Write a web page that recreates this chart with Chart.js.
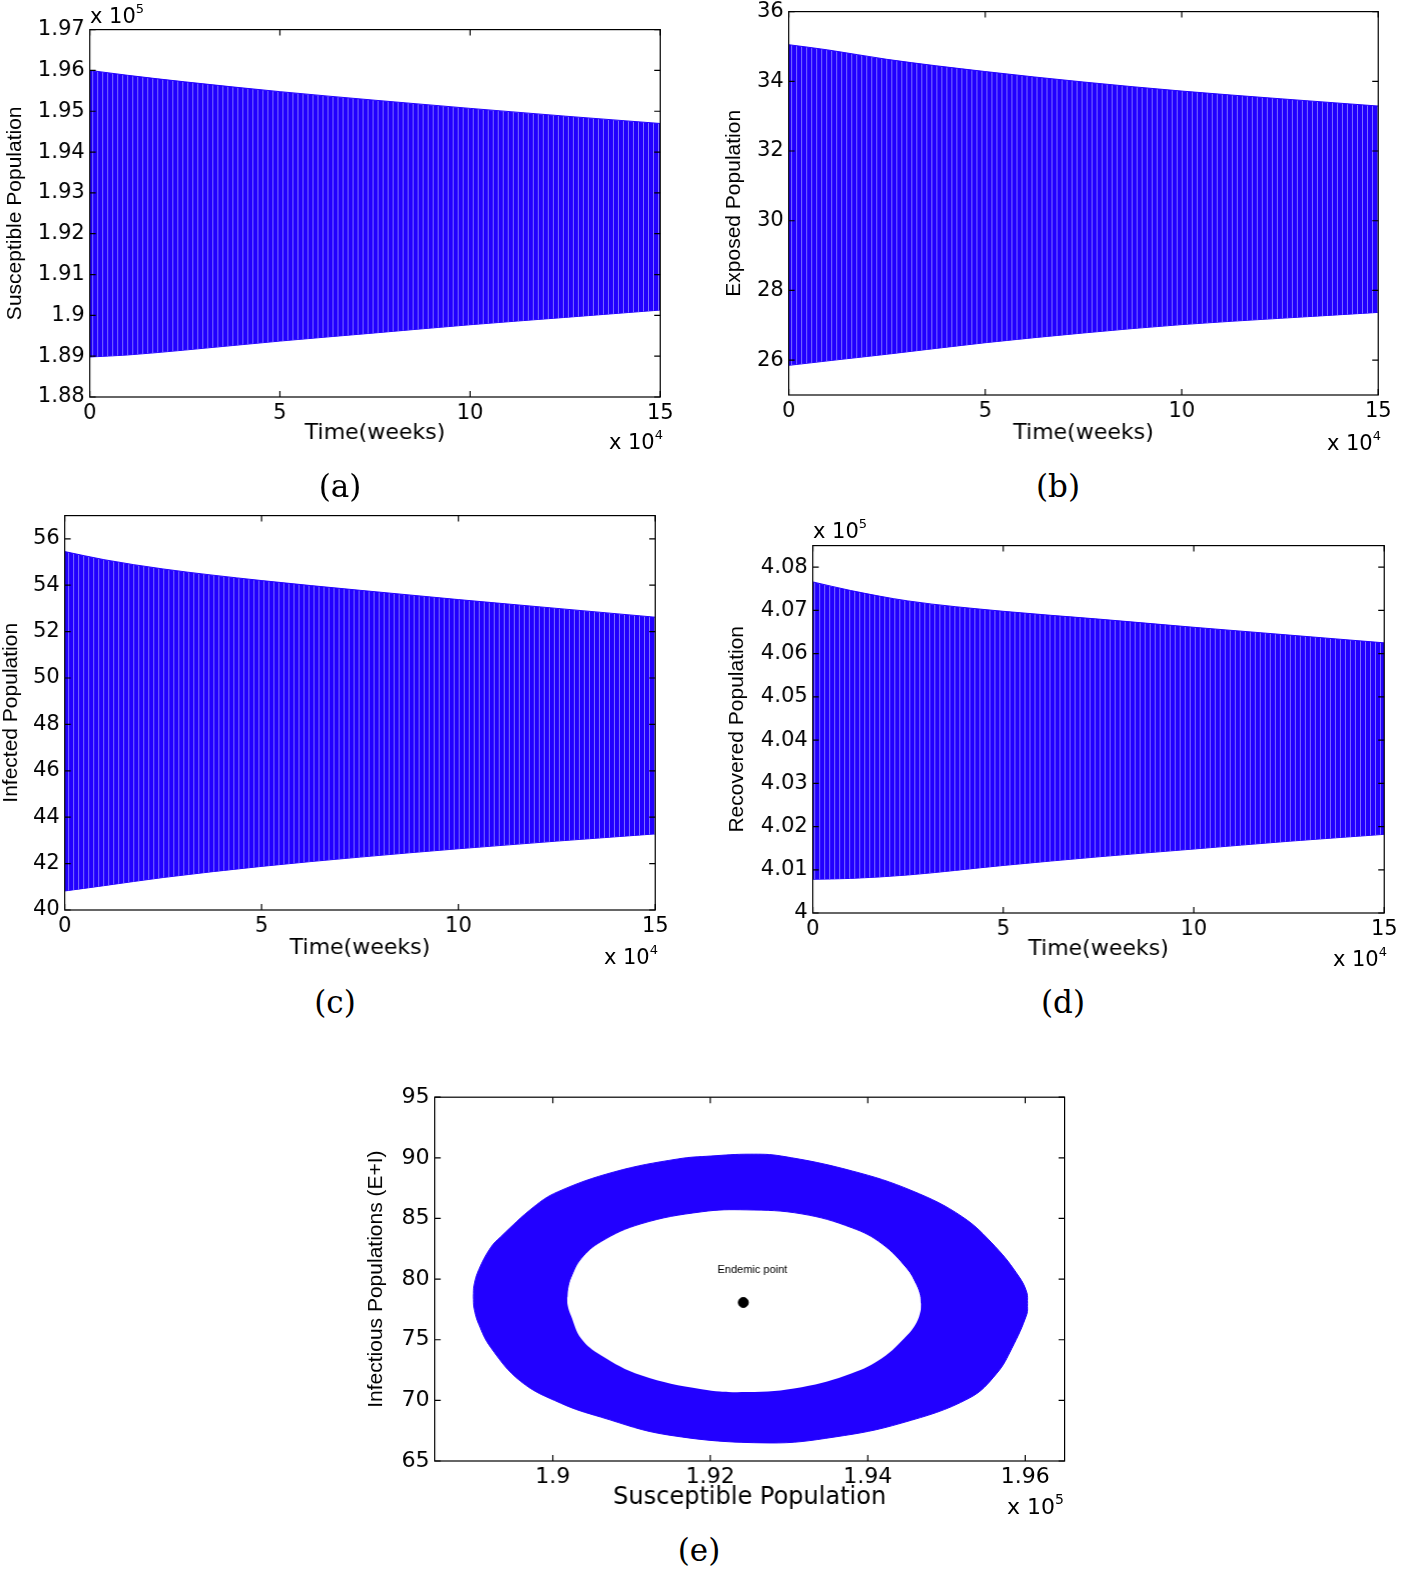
<!DOCTYPE html>
<html>
<head>
<meta charset="utf-8">
<script src="https://cdn.jsdelivr.net/npm/chart.js@4.4.1/dist/chart.umd.min.js"></script>
<style>
  html, body { margin: 0; padding: 0; background: #fff; }
  body { width: 1401px; height: 1571px; position: relative; overflow: hidden; font-family: "DejaVu Sans", sans-serif; color: #000; }
  .box { position: absolute; }
  .exp { position: absolute; font-size: 21px; line-height: 21px; white-space: nowrap; }
  .exp sup { font-size: 13px; position: relative; top: -10px; vertical-align: baseline; }
  .exp.big { font-size: 22px; line-height: 22px; }
  .exp.big sup { font-size: 14px; top: -10px; }
  .cap { position: absolute; width: 100px; text-align: center; font-family: "DejaVu Serif", serif; font-size: 31px; line-height: 36px; }
</style>
</head>
<body>
<div class="box" id="box-a"><canvas id="chart-a"></canvas></div>
<div class="box" id="box-b"><canvas id="chart-b"></canvas></div>
<div class="box" id="box-c"><canvas id="chart-c"></canvas></div>
<div class="box" id="box-d"><canvas id="chart-d"></canvas></div>
<div class="box" id="box-e"><canvas id="chart-e"></canvas></div>

<div class="exp" style="left:90px; top:6px;">x 10<sup>5</sup></div>
<div class="exp" style="right:738px; top:432px;">x 10<sup>4</sup></div>
<div class="exp" style="right:20px; top:433px;">x 10<sup>4</sup></div>
<div class="exp" style="right:743px; top:947px;">x 10<sup>4</sup></div>
<div class="exp" style="left:813px; top:521px;">x 10<sup>5</sup></div>
<div class="exp" style="right:14px; top:949px;">x 10<sup>4</sup></div>
<div class="exp big" style="right:337px; top:1496px;">x 10<sup>5</sup></div>

<div class="cap" style="left:290px; top:468px;">(a)</div>
<div class="cap" style="left:1008px; top:468px;">(b)</div>
<div class="cap" style="left:285px; top:984px;">(c)</div>
<div class="cap" style="left:1013px; top:984px;">(d)</div>
<div class="cap" style="left:649px; top:1532px;">(e)</div>

<script>
/***** Data *****/
// Time axis is in units of 10^4 weeks; the band is the envelope of the oscillation
const timeWeeks = [0, 1, 2.5, 5, 7.5, 10, 12.5, 15];

// (a) Susceptible, units of 10^5
const susceptibleUpper = [1.96, 1.9588, 1.9572, 1.9548, 1.9527, 1.9507, 1.9488, 1.947];
const susceptibleLower = [1.8898, 1.8903, 1.8915, 1.8937, 1.8957, 1.8977, 1.8995, 1.9013];

// (b) Exposed
const exposedUpper = [35.05, 34.9, 34.63, 34.28, 33.98, 33.72, 33.5, 33.29];
const exposedLower = [25.85, 25.98, 26.17, 26.5, 26.78, 27.02, 27.2, 27.37];

// (c) Infected
const infectedUpper = [55.45, 55.1, 54.7, 54.2, 53.78, 53.38, 53.0, 52.62];
const infectedLower = [40.82, 41.05, 41.4, 41.88, 42.28, 42.64, 42.97, 43.28];

// (d) Recovered, units of 10^5
const recoveredUpper = [4.0766, 4.0746, 4.0722, 4.0698, 4.068, 4.0661, 4.0643, 4.0625];
const recoveredLower = [4.0078, 4.008, 4.0088, 4.011, 4.013, 4.0148, 4.0166, 4.0182];

// (e) Phase plane: S (units of 10^5) against E+I, outer and inner edges of the ring
const outerTopS = [1.8899, 1.89, 1.8906, 1.8921, 1.8934, 1.8976, 1.9006, 1.9078, 1.9159, 1.9201, 1.925, 1.929, 1.938, 1.9456, 1.952, 1.9562, 1.9592, 1.9602, 1.9603];
const outerTopI = [78.57, 79.5, 80.78, 82.59, 83.5, 85.96, 87.19, 88.84, 89.91, 90.15, 90.3, 90.15, 88.92, 87.29, 85.14, 82.67, 80.21, 78.9, 78.0];
const outerBottomS = [1.8899, 1.89, 1.8906, 1.8921, 1.8959, 1.901, 1.9061, 1.9146, 1.9274, 1.9358, 1.9443, 1.9529, 1.9564, 1.9583, 1.9602, 1.9603];
const outerBottomI = [78.57, 77.6, 76.27, 74.38, 71.58, 69.77, 68.62, 67.15, 66.49, 66.98, 68.13, 70.19, 72.24, 74.29, 77.1, 78.0];
const innerS = [1.9018, 1.9019, 1.9023, 1.9036, 1.9061, 1.9112, 1.9189, 1.9246, 1.9316, 1.938, 1.9418, 1.945, 1.9462, 1.9467, 1.9468];
const innerTopI = [78.5, 79.2, 80.13, 81.69, 83.09, 84.56, 85.55, 85.71, 85.38, 84.23, 82.92, 80.86, 79.55, 78.66, 78.0];
const innerBottomI = [78.5, 77.8, 77.0, 75.1, 73.72, 72.07, 70.92, 70.68, 71.09, 72.24, 73.47, 75.36, 76.43, 77.34, 78.0];
const endemicS = [1.9242];
const endemicI = [78.07];

// Tick values
const timeTicks = [0, 5, 10, 15];
const susceptibleTicks = [1.88, 1.89, 1.9, 1.91, 1.92, 1.93, 1.94, 1.95, 1.96, 1.97];
const exposedTicks = [26, 28, 30, 32, 34, 36];
const infectedTicks = [40, 42, 44, 46, 48, 50, 52, 54, 56];
const recoveredTicks = [4, 4.01, 4.02, 4.03, 4.04, 4.05, 4.06, 4.07, 4.08];
const phaseSTicks = [1.9, 1.92, 1.94, 1.96];
const phaseITicks = [65, 70, 75, 80, 85, 90, 95];

/***** Layout (page pixels) *****/
const frames = {
  a: { left: 90, top: 28, right: 663, bottom: 397, yTitleX: 16, xTitleY: 433 },
  b: { left: 789, top: 10, right: 1381, bottom: 395, yTitleX: 735, xTitleY: 433 },
  c: { left: 65, top: 514, right: 658, bottom: 910, yTitleX: 12, xTitleY: 948 },
  d: { left: 813, top: 544, right: 1387, bottom: 913, yTitleX: 738, xTitleY: 949 },
  e: { left: 435, top: 1095, right: 1064, bottom: 1461, yTitleX: 377, xTitleY: 1498 },
};

const lineBlue = "#2200ff";

// Vertical stripes, to look like the densely packed oscillation lines
const stripeCanvas = document.createElement("canvas");
stripeCanvas.width = 5;
stripeCanvas.height = 1;
const sctx = stripeCanvas.getContext("2d");
sctx.fillStyle = lineBlue;
sctx.fillRect(0, 0, 5, 1);
sctx.fillStyle = "#7d6dff";
sctx.fillRect(4, 0, 1, 1);
const stripes = sctx.createPattern(stripeCanvas, "repeat");

/***** Plugins *****/
// Box round the plot with inward ticks on all four sides
const matlabFrame = {
  id: "matlabFrame",
  afterDraw: (chart) => {
    const { ctx, chartArea: a, scales } = chart;
    const len = 6;
    ctx.save();
    ctx.strokeStyle = "#000";
    ctx.lineWidth = 1.2;
    ctx.strokeRect(a.left, a.top, a.right - a.left, a.bottom - a.top);
    ctx.beginPath();
    scales.x.ticks.forEach((t) => {
      const px = scales.x.getPixelForValue(t.value);
      ctx.moveTo(px, a.bottom);
      ctx.lineTo(px, a.bottom - len);
      ctx.moveTo(px, a.top);
      ctx.lineTo(px, a.top + len);
    });
    scales.y.ticks.forEach((t) => {
      const py = scales.y.getPixelForValue(t.value);
      ctx.moveTo(a.left, py);
      ctx.lineTo(a.left + len, py);
      ctx.moveTo(a.right, py);
      ctx.lineTo(a.right - len, py);
    });
    ctx.stroke();
    ctx.restore();
  },
};

// Small label above the endemic point
const endemicLabel = {
  id: "endemicLabel",
  afterDatasetsDraw: (chart) => {
    const pt = chart.getDatasetMeta(0).data[0];
    const ctx = chart.ctx;
    ctx.save();
    ctx.font = '11px "Liberation Sans"';
    ctx.fillStyle = "#000";
    ctx.textAlign = "center";
    ctx.textBaseline = "middle";
    ctx.fillText("Endemic point", pt.x + 9, pt.y - 33);
    ctx.restore();
  },
};

/***** Functions *****/
const toPoints = (xs, ys) => xs.map((x, i) => ({ x: x, y: ys[i] }));

const tickLabel = (v) => String(Number(v.toFixed(3)));

// Upper and lower envelope, filled between
const bandDatasets = (upper, lower) => [
  {
    data: toPoints(timeWeeks, upper),
    borderColor: lineBlue,
    borderWidth: 1,
    pointRadius: 0,
    cubicInterpolationMode: "monotone",
    backgroundColor: stripes,
    fill: "+1",
  },
  {
    data: toPoints(timeWeeks, lower),
    borderColor: lineBlue,
    borderWidth: 1,
    pointRadius: 0,
    cubicInterpolationMode: "monotone",
    fill: false,
  },
];

const buildChart = (key, cfg) => {
  const f = frames[key];
  const yTitleSize = 21;
  const yTitleLH = yTitleSize * 1.2;
  const xTitleLH = cfg.xTitleSize * 1.2;
  const boxLeft = f.yTitleX - yTitleLH / 2;
  const boxTop = f.top - 16;
  const boxRight = f.right + 14;
  const boxBottom = f.xTitleY + xTitleLH / 2;

  const box = document.querySelector("#box-" + key);
  box.style.left = boxLeft + "px";
  box.style.top = boxTop + "px";
  box.style.width = boxRight - boxLeft + "px";
  box.style.height = boxBottom - boxTop + "px";

  const tickFont = { family: "DejaVu Sans", size: cfg.tickSize };

  new Chart(document.querySelector("#chart-" + key), {
    type: "line",
    data: { datasets: cfg.datasets },
    options: {
      responsive: true,
      maintainAspectRatio: false,
      animation: false,
      events: [],
      layout: { padding: { top: f.top - boxTop, right: boxRight - f.right, left: 0, bottom: 0 } },
      plugins: { legend: { display: false }, tooltip: { enabled: false } },
      scales: {
        x: {
          type: "linear",
          min: cfg.xMin,
          max: cfg.xMax,
          grid: { display: false, drawTicks: false },
          border: { display: false },
          ticks: { font: tickFont, color: "#000", padding: cfg.xTickPad, maxRotation: 0, autoSkip: false, callback: tickLabel },
          afterBuildTicks: (s) => {
            s.ticks = cfg.xTicks.map((v) => ({ value: v }));
          },
          afterFit: (s) => {
            s.height = boxBottom - f.bottom;
          },
          title: {
            display: true,
            text: cfg.xTitle,
            color: "#000",
            padding: 0,
            font: { family: "DejaVu Sans", size: cfg.xTitleSize },
          },
        },
        y: {
          type: "linear",
          min: cfg.yMin,
          max: cfg.yMax,
          grid: { display: false, drawTicks: false },
          border: { display: false },
          ticks: { font: tickFont, color: "#000", padding: 5, autoSkip: false, callback: tickLabel },
          afterBuildTicks: (s) => {
            s.ticks = cfg.yTicks.map((v) => ({ value: v }));
          },
          afterFit: (s) => {
            s.width = f.left - boxLeft;
          },
          title: {
            display: true,
            text: cfg.yTitle,
            color: "#000",
            padding: 0,
            font: { family: "Liberation Sans", size: yTitleSize },
          },
        },
      },
    },
    plugins: [matlabFrame].concat(cfg.extraPlugins || []),
  });
};

/***** Charts *****/
buildChart("a", {
  datasets: bandDatasets(susceptibleUpper, susceptibleLower),
  xMin: 0, xMax: 15, xTicks: timeTicks,
  yMin: 1.88, yMax: 1.97, yTicks: susceptibleTicks,
  xTitle: "Time(weeks)", yTitle: "Susceptible Population",
  tickSize: 21, xTitleSize: 22, xTickPad: 4,
});

buildChart("b", {
  datasets: bandDatasets(exposedUpper, exposedLower),
  xMin: 0, xMax: 15, xTicks: timeTicks,
  yMin: 25, yMax: 36, yTicks: exposedTicks,
  xTitle: "Time(weeks)", yTitle: "Exposed Population",
  tickSize: 21, xTitleSize: 22, xTickPad: 4,
});

buildChart("c", {
  datasets: bandDatasets(infectedUpper, infectedLower),
  xMin: 0, xMax: 15, xTicks: timeTicks,
  yMin: 40, yMax: 57, yTicks: infectedTicks,
  xTitle: "Time(weeks)", yTitle: "Infected Population",
  tickSize: 21, xTitleSize: 22, xTickPad: 4,
});

buildChart("d", {
  datasets: bandDatasets(recoveredUpper, recoveredLower),
  xMin: 0, xMax: 15, xTicks: timeTicks,
  yMin: 4, yMax: 4.085, yTicks: recoveredTicks,
  xTitle: "Time(weeks)", yTitle: "Recovered Population",
  tickSize: 21, xTitleSize: 22, xTickPad: 4,
});

// Phase plane: dataset 0 is drawn last, so the hole (white) covers the ring
const ringStyle = { borderColor: lineBlue, borderWidth: 1, pointRadius: 0, tension: 0.4 };
buildChart("e", {
  datasets: [
    {
      data: toPoints(endemicS, endemicI),
      showLine: false,
      pointRadius: 5,
      pointBackgroundColor: "#000",
      pointBorderColor: "#000",
    },
    { ...ringStyle, data: toPoints(innerS, innerTopI), backgroundColor: "#fff", fill: "+1" },
    { ...ringStyle, data: toPoints(innerS, innerBottomI), fill: false },
    { ...ringStyle, data: toPoints(outerTopS, outerTopI), backgroundColor: lineBlue, fill: "+1" },
    { ...ringStyle, data: toPoints(outerBottomS, outerBottomI), fill: false },
  ],
  xMin: 1.885, xMax: 1.965, xTicks: phaseSTicks,
  yMin: 65, yMax: 95, yTicks: phaseITicks,
  xTitle: "Susceptible Population", yTitle: "Infectious Populations (E+I)",
  tickSize: 22, xTitleSize: 24, xTickPad: 3,
  extraPlugins: [endemicLabel],
});
</script>
</body>
</html>
